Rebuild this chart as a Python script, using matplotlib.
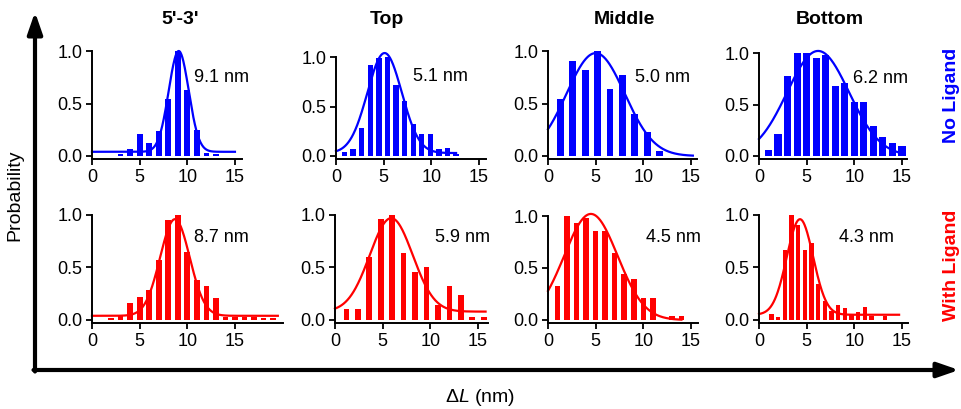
import numpy as np
import matplotlib
matplotlib.use('Agg')
import matplotlib.pyplot as plt

plt.rcParams['font.family'] = ['Liberation Sans', 'DejaVu Sans']
plt.rcParams['mathtext.fontset'] = 'custom'
plt.rcParams['mathtext.rm'] = 'Liberation Sans'
plt.rcParams['mathtext.it'] = 'Liberation Sans:italic'

columns = ["5'-3'", 'Top', 'Middle', 'Bottom']
rows = ['No Ligand', 'With Ligand']
row_colors = ['#0000ff', '#ff0000']

# histogram bins (centres) and normalised probabilities
# no ligand
nl_53_x = [3, 4, 5, 6, 7, 8, 9, 10, 11, 12, 13]
nl_53_y = [0.02, 0.07, 0.21, 0.12, 0.24, 0.54, 1.0, 0.63, 0.25, 0.025, 0.015]
nl_top_x = [0.9, 1.8, 2.7, 3.6, 4.5, 5.4, 6.3, 7.2, 8.1, 9.0, 9.9, 10.8, 11.7, 12.6]
nl_top_y = [0.04, 0.07, 0.28, 0.92, 0.99, 1.0, 0.72, 0.56, 0.32, 0.22, 0.22, 0.07, 0.08, 0.02]
nl_mid_x = [1.3, 2.6, 3.9, 5.2, 6.5, 7.8, 9.1, 10.4, 11.7]
nl_mid_y = [0.54, 0.90, 0.82, 1.0, 0.64, 0.77, 0.40, 0.23, 0.05]
nl_bot_x = [1, 2, 3, 4, 5, 6, 7, 8, 9, 10, 11, 12, 13, 14, 15]
nl_bot_y = [0.055, 0.21, 0.78, 1.0, 1.0, 0.95, 0.98, 0.68, 0.71, 0.52, 0.52, 0.29, 0.18, 0.13, 0.10]
# with ligand
wl_53_x = [2, 3, 4, 5, 6, 7, 8, 9, 10, 11, 12, 13, 14, 15, 16, 17, 18, 19]
wl_53_y = [0.02, 0.04, 0.16, 0.22, 0.29, 0.57, 0.95, 1.0, 0.65, 0.38, 0.32, 0.21,
           0.03, 0.03, 0.025, 0.025, 0.02, 0.02]
wl_top_x = [1.2, 2.4, 3.6, 4.8, 6.0, 7.2, 8.4, 9.6, 10.8, 12.0, 13.2, 14.4, 15.6]
wl_top_y = [0.10, 0.10, 0.60, 0.96, 1.0, 0.64, 0.46, 0.50, 0.14, 0.32, 0.24, 0.03, 0.03]
wl_mid_x = [1, 2, 3, 4, 5, 6, 7, 8, 9, 10, 11, 13, 14]
wl_mid_y = [0.33, 1.0, 0.93, 0.98, 0.86, 0.86, 0.64, 0.44, 0.39, 0.21, 0.21, 0.04, 0.04]
wl_bot_x = [1.3, 2.0, 2.7, 3.4, 4.1, 4.8, 5.5, 6.2, 6.9, 7.6, 8.3, 9.0, 9.7, 10.4,
            11.1, 11.8, 13.2]
wl_bot_y = [0.055, 0.025, 0.67, 1.0, 0.90, 0.67, 0.73, 0.34, 0.18, 0.09, 0.14, 0.11,
            0.055, 0.08, 0.12, 0.04, 0.04]

# gaussian fits: centre (nm), amplitude, sigma, baseline, end of drawn curve
nl_fit_center = [9.1, 5.1, 5.0, 6.2]
nl_fit_amp = [0.96, 1.01, 0.98, 1.02]
nl_fit_sigma = [1.05, 1.8, 3.05, 3.25]
nl_fit_base = [0.04, 0.03, 0.0, 0.0]
nl_fit_end = [15, 12.6, 15.2, 15]
wl_fit_center = [8.7, 5.9, 4.5, 4.3]
wl_fit_amp = [0.92, 0.89, 1.02, 0.91]
wl_fit_sigma = [1.55, 2.25, 2.8, 1.38]
wl_fit_base = [0.04, 0.08, 0.0, 0.05]
wl_fit_end = [19.5, 15.8, 14.0, 14.7]

labels_nl = ['9.1 nm', '5.1 nm', '5.0 nm', '6.2 nm']
labels_wl = ['8.7 nm', '5.9 nm', '4.5 nm', '4.3 nm']

hist = [[(nl_53_x, nl_53_y), (nl_top_x, nl_top_y), (nl_mid_x, nl_mid_y), (nl_bot_x, nl_bot_y)],
        [(wl_53_x, wl_53_y), (wl_top_x, wl_top_y), (wl_mid_x, wl_mid_y), (wl_bot_x, wl_bot_y)]]
fits = [list(zip(nl_fit_center, nl_fit_amp, nl_fit_sigma, nl_fit_base, nl_fit_end)),
        list(zip(wl_fit_center, wl_fit_amp, wl_fit_sigma, wl_fit_base, wl_fit_end))]
labels = [labels_nl, labels_wl]

# layout (pixels)
W, H = 961, 409
bar_w = [[0.6, 0.56, 0.72, 0.75], [0.6, 0.6, 0.58, 0.45]]
left_px = [[92, 336, 548, 759], [92, 335, 548, 759]]
zero_px = [156, 320]
unit_py = [[105, 99, 105, 103], [105, 105, 104, 105]]
xmax = [[15.7, 15.7, 15.6, 15.5], [20.0, 16.1, 15.7, 15.6]]
lab_pos = [[(13.6, 0.75), (11.0, 0.80), (12.0, 0.75), (12.8, 0.75)],
           [(13.6, 0.79), (13.4, 0.79), (13.2, 0.79), (11.3, 0.79)]]
px_per_x = 9.53
ylo, yhi = -0.03, 1.06

fig = plt.figure(figsize=(9.61, 4.09), dpi=100)

for r in range(2):
    for c in range(4):
        uy = unit_py[r][c]
        bottom = zero_px[r] - ylo * uy
        top = zero_px[r] - yhi * uy
        ax = fig.add_axes([left_px[r][c] / W, 1 - bottom / H,
                           xmax[r][c] * px_per_x / W, (bottom - top) / H])
        col = row_colors[r]
        bx, by = hist[r][c]
        ax.bar(bx, by, width=bar_w[r][c], color=col, linewidth=0)
        mu, amp, sig, base, end = fits[r][c]
        xf = np.linspace(0, end, 300)
        ax.plot(xf, base + amp * np.exp(-(xf - mu) ** 2 / (2 * sig ** 2)),
                color=col, lw=1.6, clip_on=False)
        ax.set_xlim(0, xmax[r][c])
        ax.set_ylim(ylo, yhi)
        ax.set_xticks([0, 5, 10, 15])
        ax.set_yticks([0.0, 0.5, 1.0])
        ax.set_yticklabels(['0.0', '0.5', '1.0'])
        for s in ['top', 'right']:
            ax.spines[s].set_visible(False)
        ax.spines['left'].set_bounds(ylo, 1.0)
        ax.spines['left'].set_linewidth(1.4)
        ax.spines['bottom'].set_linewidth(1.4)
        ax.tick_params(length=4, width=1.3, labelsize=13, pad=3)
        tx, ty = lab_pos[r][c]
        ax.text(tx, ty, labels[r][c], fontsize=13, ha='center', va='center')

# column titles
title_x = [180, 387, 624, 830]
for name, x in zip(columns, title_x):
    fig.text(x / W, 1 - 20 / H, name, fontsize=14, fontweight='bold',
             ha='center', va='center')

# row labels
fig.text(952 / W, 1 - 95 / H, rows[0], color=row_colors[0], rotation=90,
         fontsize=14, fontweight='bold', ha='center', va='center')
fig.text(952 / W, 1 - 265 / H, rows[1], color=row_colors[1], rotation=90,
         fontsize=14, fontweight='bold', ha='center', va='center')

# big arrow axes
bg = fig.add_axes([0, 0, 1, 1])
bg.set_xlim(0, W)
bg.set_ylim(H, 0)
bg.axis('off')
bg.patch.set_alpha(0)
bg.annotate('', xy=(35, 12), xytext=(35, 371.5),
            arrowprops=dict(arrowstyle='-|>,head_length=1.3,head_width=0.45',
                            color='black', lw=3, shrinkA=0, shrinkB=0))
bg.annotate('', xy=(959, 370), xytext=(33.5, 370),
            arrowprops=dict(arrowstyle='-|>,head_length=1.3,head_width=0.45',
                            color='black', lw=3, shrinkA=0, shrinkB=0))

fig.text(15 / W, 1 - 195 / H, 'Probability', rotation=90, fontsize=14,
         ha='center', va='center')
fig.text(480 / W, 1 - 397 / H, r'$\Delta\mathit{L}$ (nm)', fontsize=14,
         ha='center', va='center')

plt.savefig('out.png', dpi=100)
